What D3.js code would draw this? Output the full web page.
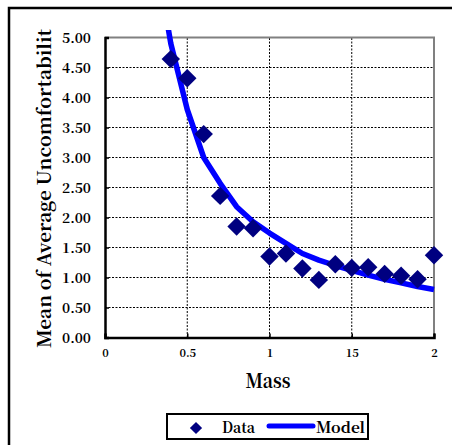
<!DOCTYPE html>
<html><head><meta charset="utf-8">
<script src="https://cdn.jsdelivr.net/npm/d3@7"></script>
<style>
html,body{margin:0;padding:0;background:#fff;overflow:hidden;}
svg{display:block;}
</style></head>
<body>
<script>
// ---- data ----
const dataMass = [0.4,0.5,0.6,0.7,0.8,0.9,1.0,1.1,1.2,1.3,1.4,1.5,1.6,1.7,1.8,1.9,2.0];
const dataValues = [4.64,4.32,3.39,2.36,1.85,1.82,1.35,1.40,1.15,0.96,1.22,1.16,1.17,1.06,1.03,0.97,1.37];
const modelMass = [0.3,0.4,0.5,0.6,0.7,0.8,0.9,1.0,1.1,1.2,1.3,1.4,1.5,1.6,1.7,1.8,1.9,2.0];
const modelValues = [6.5,4.9,3.8,3.0,2.57,2.18,1.93,1.74,1.57,1.40,1.29,1.20,1.12,1.04,0.97,0.91,0.85,0.80];
const yTicks = [0,0.5,1,1.5,2,2.5,3,3.5,4,4.5,5];
const yTickLabels = ["0.00","0.50","1.00","1.50","2.00","2.50","3.00","3.50","4.00","4.50","5.00"];
const xTicks = [0,0.5,1,1.5,2];
const xTickLabels = ["0","0.5","1","15","2"];
const yTitle = "Mean of Average Uncomfortability";
const xTitle = "Mass";
const legendLabels = ["Data","Model"];

const FONT = "'Noto Serif CJK JP','Liberation Serif',serif";
const W=452,H=445;
const svg=d3.select("body").append("svg").attr("width",W).attr("height",H);

// outer chart border
svg.append("rect").attr("x",9).attr("y",8).attr("width",600).attr("height",600)
  .attr("fill","#fff").attr("stroke","#000").attr("stroke-width",2.5);

const x=d3.scaleLinear().domain([0,2]).range([105,434]);
const y=d3.scaleLinear().domain([0,5]).range([337.5,37.5]);

// grid
const grid=svg.append("g");
grid.selectAll(".hg").data(yTicks.filter(d=>d>0&&d<5)).join("line")
  .attr("x1",x(0)).attr("x2",x(2)).attr("y1",d=>y(d)).attr("y2",d=>y(d))
  .attr("stroke","#000").attr("stroke-width",1).attr("stroke-dasharray","2,1.5");
grid.selectAll(".vg").data(xTicks.filter(d=>d>0&&d<2)).join("line")
  .attr("y1",y(0)).attr("y2",y(5)).attr("x1",d=>x(d)).attr("x2",d=>x(d))
  .attr("stroke","#000").attr("stroke-width",1).attr("stroke-dasharray","2,1.5");

// gray top/right frame
svg.append("path").attr("d",`M${x(0)},${y(5)}H${x(2)}V${y(0)}`)
  .attr("fill","none").attr("stroke","#808080").attr("stroke-width",2);

// axes
const yAxis=d3.axisLeft(y).tickValues(yTicks).tickSize(-4).tickFormat((d,i)=>yTickLabels[i]).tickPadding(14);
const gy=svg.append("g").attr("transform",`translate(${x(0)},0)`).call(yAxis);
gy.select(".domain").attr("stroke","#000").attr("stroke-width",2.5);
gy.selectAll(".tick line").attr("stroke","#000").attr("stroke-width",1.5);
gy.selectAll(".tick text").style("font-family",FONT).style("font-weight","bold").style("font-size","13px").attr("dy","0.4em")
  .attr("textLength",29).attr("lengthAdjust","spacingAndGlyphs");

const xAxis=d3.axisBottom(x).tickValues(xTicks).tickSize(-4).tickFormat((d,i)=>xTickLabels[i]).tickPadding(12);
const gx=svg.append("g").attr("transform",`translate(0,${y(0)})`).call(xAxis);
gx.select(".domain").attr("stroke","#000").attr("stroke-width",2.5);
gx.selectAll(".tick line").attr("stroke","#000").attr("stroke-width",1.5);
gx.selectAll(".tick text").style("font-family",FONT).style("font-weight","bold").style("font-size","11px");

// clip for model line
svg.append("clipPath").attr("id","clipTop").append("rect")
  .attr("x",0).attr("y",30).attr("width",W).attr("height",H);

const line=d3.line().x((d,i)=>x(modelMass[i])).y(d=>y(d));
svg.append("path").datum(modelValues).attr("d",line).attr("clip-path","url(#clipTop)")
  .attr("fill","none").attr("stroke","#0000FF").attr("stroke-width",5.5).attr("stroke-linejoin","round");

// data diamonds
const sym=d3.symbol().type(d3.symbolSquare).size(170);
svg.selectAll(".pt").data(dataValues).join("path")
  .attr("d",sym).attr("fill","#000080")
  .attr("transform",(d,i)=>`translate(${x(dataMass[i])},${y(d)}) rotate(45)`);

// y title
svg.append("clipPath").attr("id","clipTitle").append("rect")
  .attr("x",0).attr("y",29).attr("width",W).attr("height",H);
svg.append("g").attr("clip-path","url(#clipTitle)").append("text")
  .attr("transform","translate(51,348) rotate(-90)")
  .attr("text-anchor","start").style("font-family",FONT).style("font-weight","bold").style("font-size","18px")
  .attr("textLength",330).attr("lengthAdjust","spacingAndGlyphs")
  .text(yTitle);

// x title
svg.append("text").attr("x",268).attr("y",388).attr("text-anchor","middle")
  .style("font-family",FONT).style("font-weight","bold").style("font-size","20px")
  .attr("textLength",45).attr("lengthAdjust","spacingAndGlyphs").text(xTitle);

// legend
const lg=svg.append("g");
lg.append("rect").attr("x",167).attr("y",414).attr("width",201).attr("height",25)
  .attr("fill","#fff").attr("stroke","#000").attr("stroke-width",2);
lg.append("path").attr("d",d3.symbol().type(d3.symbolSquare).size(75))
  .attr("transform","translate(196,428) rotate(45)").attr("fill","#000080");
lg.append("text").attr("x",222).attr("y",433).style("font-family",FONT).style("font-weight","bold").style("font-size","15px")
  .attr("textLength",33).attr("lengthAdjust","spacingAndGlyphs").text(legendLabels[0]);
lg.append("line").attr("x1",269).attr("x2",313).attr("y1",426).attr("y2",426)
  .attr("stroke","#0000FF").attr("stroke-width",5).attr("stroke-linecap","round");
lg.append("text").attr("x",316).attr("y",433).style("font-family",FONT).style("font-weight","bold").style("font-size","15px")
  .attr("textLength",49).attr("lengthAdjust","spacingAndGlyphs").text(legendLabels[1]);
</script>
</body></html>
